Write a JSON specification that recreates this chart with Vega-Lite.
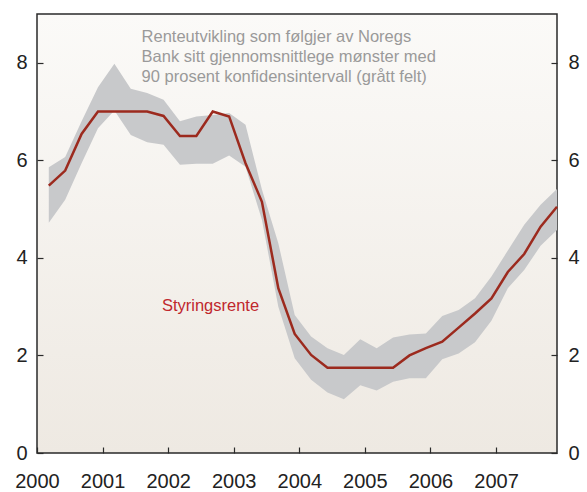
{
  "$schema": "https://vega.github.io/schema/vega-lite/v6.json",
  "width": 520,
  "height": 439,
  "autosize": {"type": "none"},
  "padding": {"left": 37, "top": 14, "right": 30, "bottom": 39},
  "background": "white",
  "config": {
    "view": {
      "fill": {"gradient": "linear", "x1": 0, "y1": 0, "x2": 0, "y2": 1, "stops": [{"offset": 0, "color": "#fbfaf8"}, {"offset": 1, "color": "#eee9e2"}]},
      "stroke": "#2a2a2a",
      "strokeWidth": 1.5
    },
    "axis": {
      "labelFont": "Liberation Sans",
      "labelFontSize": 20,
      "labelColor": "#222222",
      "tickColor": "#2a2a2a",
      "tickWidth": 1.2,
      "domain": false,
      "grid": false,
      "title": null,
      "labelFlush": false,
      "labelOverlap": false
    }
  },
  "data": {"values": [
    {"t": 2000.18, "rate": 5.48, "lo": 4.72, "hi": 5.86},
    {"t": 2000.43, "rate": 5.79, "lo": 5.19, "hi": 6.07},
    {"t": 2000.68, "rate": 6.54, "lo": 5.94, "hi": 6.80},
    {"t": 2000.93, "rate": 7.0, "lo": 6.66, "hi": 7.50},
    {"t": 2001.18, "rate": 7.0, "lo": 7.02, "hi": 7.98},
    {"t": 2001.43, "rate": 7.0, "lo": 6.52, "hi": 7.47},
    {"t": 2001.68, "rate": 7.0, "lo": 6.37, "hi": 7.38},
    {"t": 2001.93, "rate": 6.91, "lo": 6.32, "hi": 7.24},
    {"t": 2002.18, "rate": 6.5, "lo": 5.91, "hi": 6.80},
    {"t": 2002.43, "rate": 6.5, "lo": 5.93, "hi": 6.90},
    {"t": 2002.68, "rate": 7.0, "lo": 5.93, "hi": 6.93},
    {"t": 2002.93, "rate": 6.90, "lo": 6.10, "hi": 6.97},
    {"t": 2003.18, "rate": 5.94, "lo": 5.87, "hi": 6.73},
    {"t": 2003.43, "rate": 5.15, "lo": 4.78, "hi": 5.40},
    {"t": 2003.68, "rate": 3.38, "lo": 3.0, "hi": 4.30},
    {"t": 2003.93, "rate": 2.44, "lo": 1.94, "hi": 2.83},
    {"t": 2004.18, "rate": 2.01, "lo": 1.50, "hi": 2.39},
    {"t": 2004.43, "rate": 1.75, "lo": 1.24, "hi": 2.15},
    {"t": 2004.68, "rate": 1.75, "lo": 1.10, "hi": 2.01},
    {"t": 2004.93, "rate": 1.75, "lo": 1.39, "hi": 2.33},
    {"t": 2005.18, "rate": 1.75, "lo": 1.28, "hi": 2.15},
    {"t": 2005.43, "rate": 1.75, "lo": 1.46, "hi": 2.37},
    {"t": 2005.68, "rate": 2.0, "lo": 1.53, "hi": 2.43},
    {"t": 2005.93, "rate": 2.15, "lo": 1.53, "hi": 2.45},
    {"t": 2006.18, "rate": 2.28, "lo": 1.92, "hi": 2.81},
    {"t": 2006.43, "rate": 2.57, "lo": 2.04, "hi": 2.93},
    {"t": 2006.68, "rate": 2.86, "lo": 2.27, "hi": 3.17},
    {"t": 2006.93, "rate": 3.17, "lo": 2.71, "hi": 3.62},
    {"t": 2007.18, "rate": 3.71, "lo": 3.38, "hi": 4.15},
    {"t": 2007.43, "rate": 4.08, "lo": 3.75, "hi": 4.68},
    {"t": 2007.68, "rate": 4.64, "lo": 4.25, "hi": 5.09},
    {"t": 2007.93, "rate": 5.05, "lo": 4.57, "hi": 5.41}
  ]},
  "layer": [
    {
      "mark": {"type": "area", "color": "#c8c9cb", "opacity": 1},
      "encoding": {
        "x": {"field": "t", "type": "quantitative", "scale": {"domain": [2000, 2007.93], "nice": false, "zero": false},
          "axis": {"orient": "bottom", "values": [2000, 2001, 2002, 2003, 2004, 2005, 2006, 2007], "format": "d", "tickSize": -6, "labelPadding": 24}},
        "y": {"field": "lo", "type": "quantitative", "scale": {"domain": [0, 9], "nice": false},
          "axis": {"orient": "left", "values": [0, 2, 4, 6, 8], "tickSize": -6, "labelPadding": 16}},
        "y2": {"field": "hi"}
      }
    },
    {
      "mark": {"type": "line", "color": "#9c2a1e", "strokeWidth": 2.5},
      "encoding": {
        "x": {"field": "t", "type": "quantitative"},
        "y": {"field": "rate", "type": "quantitative", "scale": {"domain": [0, 9], "nice": false},
          "axis": {"orient": "right", "values": [0, 2, 4, 6, 8], "tickSize": -6, "labelPadding": 17}}
      }
    },
    {
      "data": {"values": [{"t": 2001.595, "v": 8.70, "label": "Renteutvikling som følgjer av Noregs\nBank sitt gjennomsnittlege mønster med\n90 prosent konfidensintervall (grått felt)"}]},
      "mark": {"type": "text", "align": "left", "baseline": "top", "lineBreak": "\n", "lineHeight": 20, "font": "Liberation Sans", "fontSize": 16.5, "color": "#9a9a9a"},
      "encoding": {
        "x": {"field": "t", "type": "quantitative"},
        "y": {"field": "v", "type": "quantitative", "axis": null},
        "text": {"field": "label"}
      }
    },
    {
      "data": {"values": [{"t": 2001.905, "v": 2.92, "label": "Styringsrente"}]},
      "mark": {"type": "text", "align": "left", "baseline": "alphabetic", "font": "Liberation Sans", "fontSize": 16.5, "color": "#c0272d"},
      "encoding": {
        "x": {"field": "t", "type": "quantitative"},
        "y": {"field": "v", "type": "quantitative", "axis": null},
        "text": {"field": "label"}
      }
    }
  ],
  "resolve": {"axis": {"y": "independent"}}
}
